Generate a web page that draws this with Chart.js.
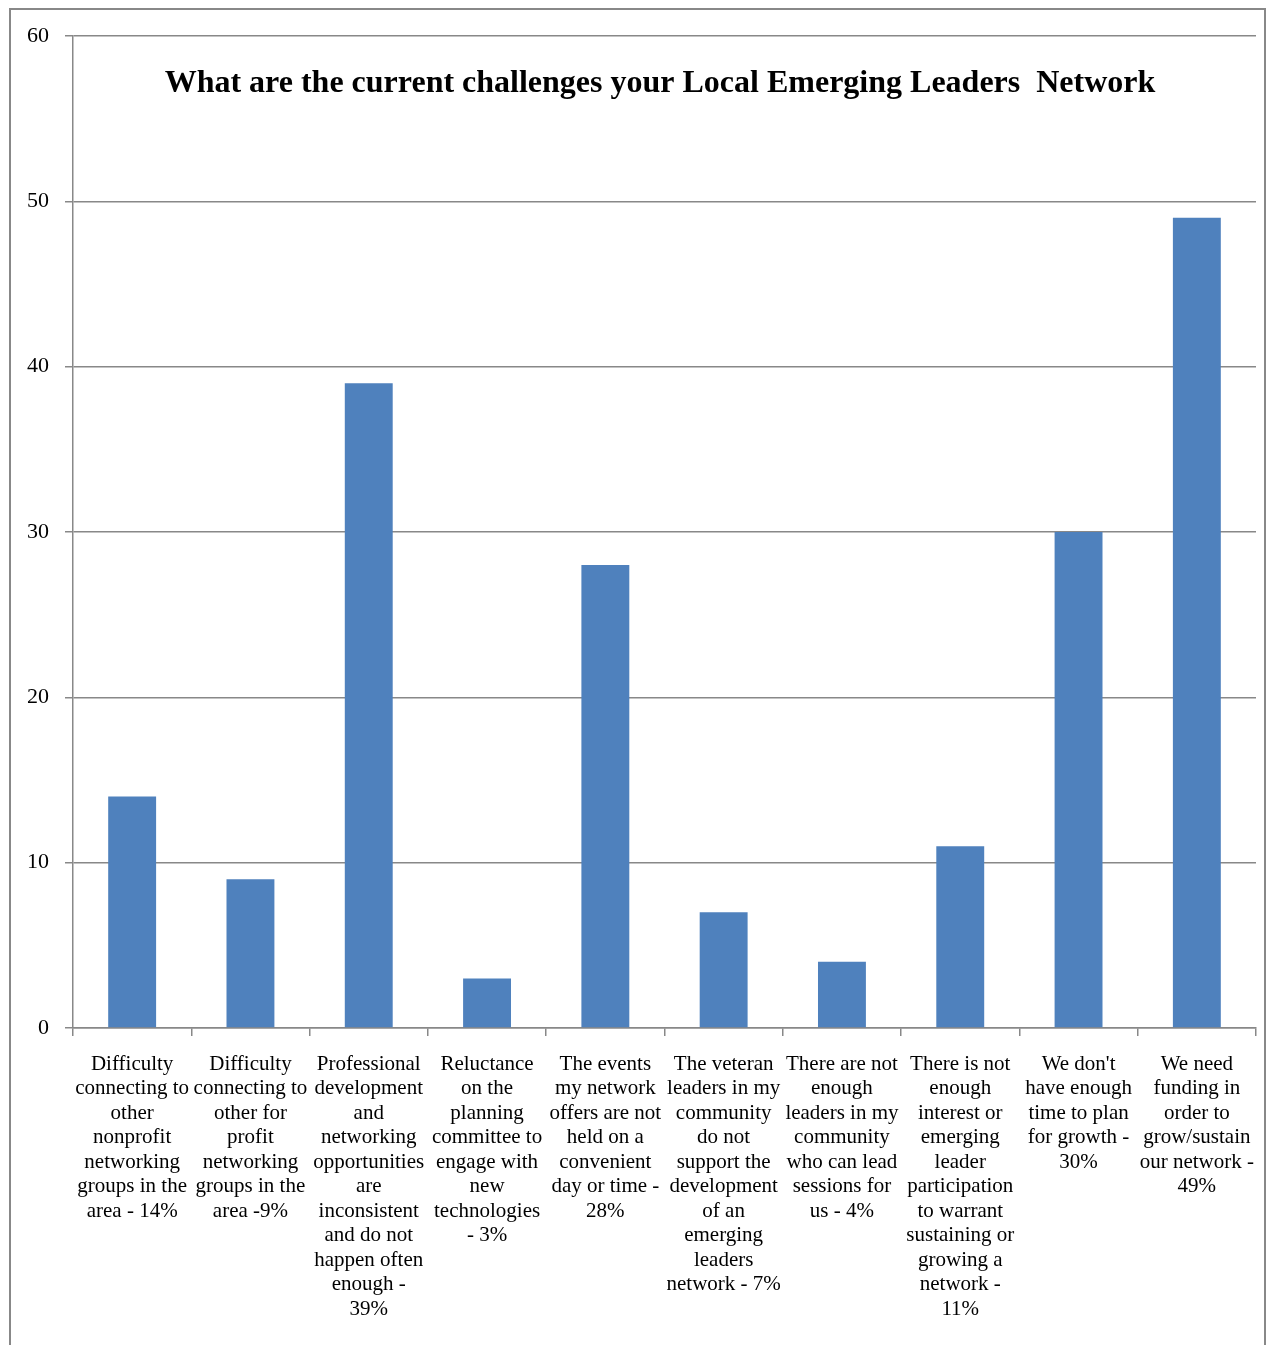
<!DOCTYPE html>
<html>
<head>
<meta charset="utf-8">
<title>Local Emerging Leaders Network challenges</title>
<script src="https://cdn.jsdelivr.net/npm/chart.js@4/dist/chart.umd.min.js"></script>
<style>
    html, body { margin: 0; padding: 0; background: #ffffff; }
    #wrap { position: relative; width: 1266px; height: 1345px; }
</style>
</head>
<body>
<div id="wrap">
    <canvas id="challengesChart" width="1266" height="1345"></canvas>
</div>
<script>
// Chart title and data
const chartTitle = 'What are the current challenges your Local Emerging Leaders  Network';

const categories = [
    ['Difficulty', 'connecting to', 'other', 'nonprofit', 'networking', 'groups in the', 'area - 14%'],
    ['Difficulty', 'connecting to', 'other for', 'profit', 'networking', 'groups in the', 'area -9%'],
    ['Professional', 'development', 'and', 'networking', 'opportunities', 'are', 'inconsistent', 'and do not', 'happen often', 'enough -', '39%'],
    ['Reluctance', 'on the', 'planning', 'committee to', 'engage with', 'new', 'technologies', '- 3%'],
    ['The events', 'my network', 'offers are not', 'held on a', 'convenient', 'day or time -', '28%'],
    ['The veteran', 'leaders in my', 'community', 'do not', 'support the', 'development', 'of an', 'emerging', 'leaders', 'network - 7%'],
    ['There are not', 'enough', 'leaders in my', 'community', 'who can lead', 'sessions for', 'us - 4%'],
    ['There is not', 'enough', 'interest or', 'emerging', 'leader', 'participation', 'to warrant', 'sustaining or', 'growing a', 'network -', '11%'],
    ["We don't", 'have enough', 'time to plan', 'for growth -', '30%'],
    ['We need', 'funding in', 'order to', 'grow/sustain', 'our network -', '49%']
];

const percentValues = [14, 9, 39, 3, 28, 7, 4, 11, 30, 49];

const yTicks = [0, 10, 20, 30, 40, 50, 60];

const serif = "'Liberation Serif', 'Times New Roman', serif";
const lineGrey = '#888888';

// Draws the outer frame and the title inside the plot area
const frameAndTitle = {
    id: 'frameAndTitle',
    afterDraw(chart) {
        const ctx = chart.ctx;
        ctx.save();
        ctx.strokeStyle = lineGrey;
        ctx.lineWidth = 2;
        ctx.beginPath();
        ctx.moveTo(10, chart.height);
        ctx.lineTo(10, 9);
        ctx.lineTo(1265, 9);
        ctx.lineTo(1265, chart.height);
        ctx.stroke();

        ctx.fillStyle = '#000000';
        ctx.font = 'bold 32px ' + serif;
        ctx.textAlign = 'center';
        ctx.textBaseline = 'middle';
        ctx.fillText(chartTitle, 660, 84);
        ctx.restore();
    }
};

const ctx = document.getElementById('challengesChart').getContext('2d');

new Chart(ctx, {
    type: 'bar',
    data: {
        labels: categories,
        datasets: [{
            data: percentValues,
            backgroundColor: '#4F81BD',
            borderWidth: 0,
            barPercentage: 0.405,
            categoryPercentage: 1.0
        }]
    },
    options: {
        responsive: false,
        animation: false,
        devicePixelRatio: 1,
        layout: {
            padding: { top: 36, right: 10, left: 0, bottom: 0 }
        },
        plugins: {
            legend: { display: false },
            title: { display: false },
            tooltip: { enabled: false }
        },
        scales: {
            x: {
                grid: {
                    drawOnChartArea: false,
                    drawTicks: true,
                    tickLength: 8,
                    color: lineGrey,
                    lineWidth: 1.5
                },
                border: { color: lineGrey, width: 1.5 },
                ticks: {
                    autoSkip: false,
                    maxRotation: 0,
                    minRotation: 0,
                    padding: 16,
                    color: '#000000',
                    font: { family: serif, size: 21, lineHeight: 1.167 }
                },
                afterFit(scale) {
                    scale.height = 317;
                    // labels fit inside their categories, no side padding needed
                    scale.paddingLeft = 0;
                    scale.paddingRight = 0;
                }
            },
            y: {
                min: 0,
                max: 60,
                afterBuildTicks(scale) {
                    scale.ticks = yTicks.map(v => ({ value: v }));
                },
                grid: {
                    color: lineGrey,
                    lineWidth: 1.5,
                    tickLength: 8
                },
                border: { color: lineGrey, width: 1.5 },
                ticks: {
                    padding: 16,
                    color: '#000000',
                    font: { family: serif, size: 22 }
                },
                afterFit(scale) {
                    scale.width = 73;
                }
            }
        }
    },
    plugins: [frameAndTitle]
});
</script>
</body>
</html>
